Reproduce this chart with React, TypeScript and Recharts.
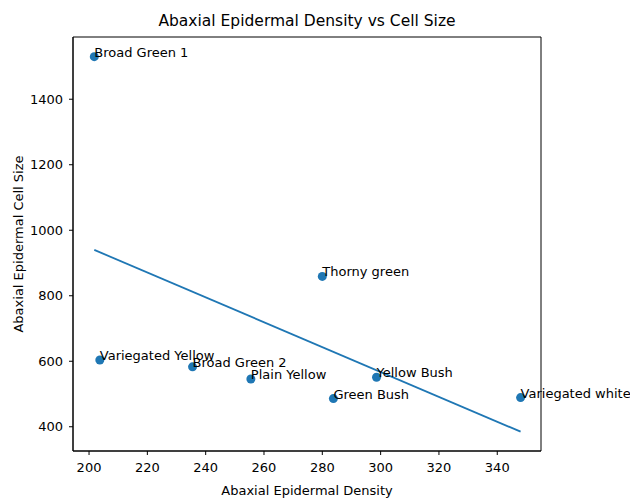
import { ReferenceArea, Scatter, ScatterChart, XAxis, YAxis, Label } from "recharts";

// Abaxial epidermal density (x) against abaxial epidermal cell size (y), one point per plant
const plantNames = [
  "Broad Green 1",
  "Variegated Yellow",
  "Broad Green 2",
  "Plain Yellow",
  "Thorny green",
  "Green Bush",
  "Yellow Bush",
  "Variegated white",
];
const density = [201.8, 203.7, 235.5, 255.5, 280, 283.8, 298.6, 348];
const cellSize = [1530, 604, 583, 546, 859, 486, 551, 489];

// least-squares fit drawn as a straight line, endpoints
const fitX = [201.8, 348];
const fitY = [940, 385];

const xTicks = [200, 220, 240, 260, 280, 300, 320, 340];
const yTicks = [400, 600, 800, 1000, 1200, 1400];
const xDomain: [number, number] = [194.5, 355];
const yDomain: [number, number] = [326, 1590];

const points = plantNames.map((name, i) => ({ name, x: density[i], y: cellSize[i] }));
const fitLine = fitX.map((x, i) => ({ x, y: fitY[i] }));

const BLUE = "#1f77b4";
const FONT = "'DejaVu Sans', sans-serif";

function PointWithName(props: any) {
  const { cx, cy, payload } = props;
  return (
    <g>
      <circle cx={cx} cy={cy} r={4.5} fill={BLUE} />
      <text x={cx} y={cy} fontSize={13} fontFamily={FONT} fill="#000" textAnchor="start">
        {payload.name}
      </text>
    </g>
  );
}

export default function App() {
  return (
    <div style={{ position: "absolute", left: 0, top: 0, width: 630, height: 500, background: "#fff" }}>
      <div
        style={{
          position: "absolute",
          left: 0,
          width: 614,
          top: 13,
          lineHeight: "16px",
          textAlign: "center",
          fontFamily: FONT,
          fontSize: 15.5,
          color: "#000",
        }}
      >
        Abaxial Epidermal Density vs Cell Size
      </div>
      <ScatterChart width={630} height={500} margin={{ top: 37, right: 89, bottom: 0, left: 0 }}>
        <XAxis
          type="number"
          dataKey="x"
          domain={xDomain}
          ticks={xTicks}
          height={49}
          tickSize={4}
          tickMargin={8}
          stroke="#000"
          tick={{ fill: "#000", fontSize: 13, fontFamily: FONT }}
        >
          <Label
            value="Abaxial Epidermal Density"
            position="insideBottom"
            offset={5}
            style={{ fontSize: 13, fontFamily: FONT, fill: "#000" }}
          />
        </XAxis>
        <YAxis
          type="number"
          dataKey="y"
          domain={yDomain}
          ticks={yTicks}
          width={73}
          tickSize={4}
          tickMargin={6}
          stroke="#000"
          tick={{ fill: "#000", fontSize: 13, fontFamily: FONT }}
        >
          <Label
            content={() => (
              <text
                x={18}
                y={244}
                transform="rotate(-90, 18, 244)"
                textAnchor="middle"
                dominantBaseline="central"
                fontSize={13}
                fontFamily={FONT}
                fill="#000"
              >
                Abaxial Epidermal Cell Size
              </text>
            )}
          />
        </YAxis>
        <ReferenceArea
          x1={xDomain[0]}
          x2={xDomain[1]}
          y1={yDomain[0]}
          y2={yDomain[1]}
          fill="none"
          stroke="#000"
          strokeWidth={1}
        />
        <Scatter
          data={fitLine}
          line={{ stroke: BLUE, strokeWidth: 1.8 }}
          shape={() => <g />}
          isAnimationActive={false}
        />
        <Scatter data={points} shape={PointWithName} isAnimationActive={false} />
      </ScatterChart>
    </div>
  );
}
